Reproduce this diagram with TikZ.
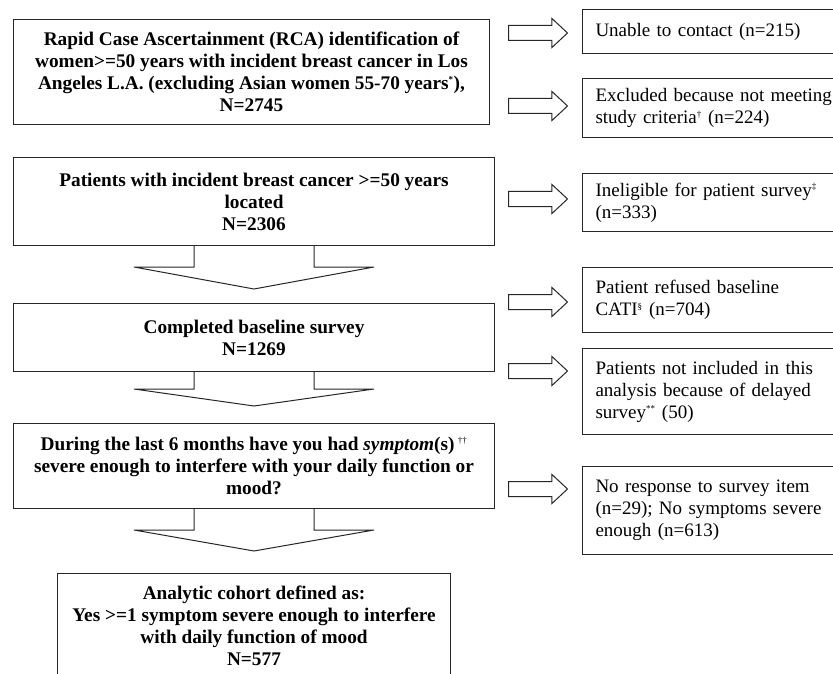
\documentclass[tikz,border=0pt]{standalone}
\usepackage{fontspec}
\setmainfont{Liberation Serif}
\usepackage{tikz}
\usetikzlibrary{shapes.arrows, calc}
\tikzstyle{mainbox} = [rectangle, anchor=north west, draw=black!85, line width=1pt,
inner sep=0pt, align=center, font=\bfseries\fontsize{19.3}{22}\selectfont]
\tikzstyle{sidebox} = [rectangle, anchor=north west, draw=black!85, line width=1pt,
inner xsep=13pt, inner ysep=0pt, text width=260pt, align=left,
font=\fontsize{19}{22}\selectfont]
\tikzstyle{sidearrow} = [single arrow, anchor=tail, draw=black!85, line width=1pt,
inner xsep=0pt, inner ysep=7pt, minimum height=59pt,
single arrow head extend=7pt, single arrow tip angle=86]
\tikzstyle{downarrow} = [draw=black!85, line width=1pt]
\newcommand{\fnmark}[1]{\textsuperscript{\fontsize{9}{9}\selectfont #1}}

\begin{document}
\begin{tikzpicture}[x=1pt, y=-1pt]
\useasboundingbox (0,0) rectangle (833,674);
\clip (0,0) rectangle (833,674);

% left column
\node(rca)[mainbox, minimum width=476pt, minimum height=105pt] at (13,19)
{Rapid Case Ascertainment (RCA) identification of\\
women>=50 years with incident breast cancer in Los\\
Angeles L.A. (excluding Asian women 55-70 years\fnmark{*}),\\
N=2745};
\node(located)[mainbox, minimum width=481pt, minimum height=88pt] at (13,157)
{Patients with incident breast cancer >=50 years\\ located\\ N=2306};
\node(baseline)[mainbox, minimum width=481pt, minimum height=68pt] at (13,303)
{Completed baseline survey\\ N=1269};
\node(symptomQ)[mainbox, minimum width=481pt, minimum height=85pt] at (13,423)
{During the last 6 months have you had \textit{symptom}(s)\,\fnmark{\mdseries ††}\\
severe enough to interfere with your daily function or\\ mood?};
\node(cohort)[mainbox, minimum width=393pt, minimum height=104pt] at (57,573)
{Analytic cohort defined as:\\
Yes >=1 symptom severe enough to interfere\\
with daily function of mood\\ N=577};

% right column
\node(unable)[sidebox, minimum height=44pt] at (582,9)
{Unable to contact (n=215)};
\node(excluded)[sidebox, minimum height=59pt] at (582,78)
{Excluded because not meeting\\ study criteria\fnmark{†} (n=224)};
\node(ineligible)[sidebox, minimum height=58pt] at (582,173)
{Ineligible for patient survey\fnmark{‡}\\ (n=333)};
\node(refused)[sidebox, minimum height=65pt] at (582,267)
{Patient refused baseline\\ CATI\fnmark{§} (n=704)};
\node(delayed)[sidebox, minimum height=86pt] at (582,348)
{Patients not included in this\\ analysis because of delayed\\ survey\fnmark{**} (50)};
\node(noResp)[sidebox, minimum height=88pt] at (582,466)
{No response to survey item\\ (n=29); No symptoms severe\\ enough (n=613)};

% side arrows
\node(toUnable)[sidearrow] at (508,33) {};
\node(toExcluded)[sidearrow] at (508,106) {};
\node(toIneligible)[sidearrow] at (508,199) {};
\node(toRefused)[sidearrow] at (508,302) {};
\node(toDelayed)[sidearrow] at (508,371) {};
\node(toNoResp)[sidearrow] at (508,489) {};

% down arrows
\draw[downarrow]([xshift=-60pt]located.south) -- ++(0,21) -- ++(-60,0) --
($(located.south)+(0,43)$) -- ++(120,-22) -- ++(-60,0) -- ([xshift=60pt]located.south);
\draw[downarrow]([xshift=-60pt]baseline.south) -- ++(0,17) -- ++(-60,0) --
($(baseline.south)+(0,34)$) -- ++(120,-17) -- ++(-60,0) -- ([xshift=60pt]baseline.south);
\draw[downarrow]([xshift=-60pt]symptomQ.south) -- ++(0,21) -- ++(-60,0) --
($(symptomQ.south)+(0,42)$) -- ++(120,-21) -- ++(-60,0) -- ([xshift=60pt]symptomQ.south);

\end{tikzpicture}
\end{document}
